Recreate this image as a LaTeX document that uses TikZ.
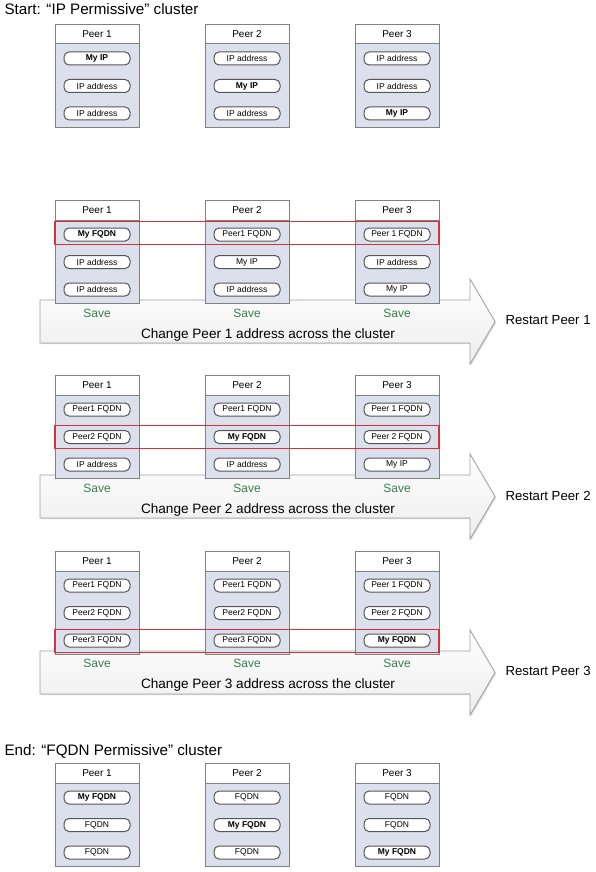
\documentclass[tikz,border=0pt]{standalone}
\usepackage{fontspec}
\setmainfont{Liberation Sans}
\usetikzlibrary{shadows}
\definecolor{boxfill}{RGB}{220,224,236}
\definecolor{boxline}{RGB}{128,128,128}
\definecolor{pillline}{RGB}{85,85,85}
\definecolor{redline}{RGB}{212,50,60}
\definecolor{savegreen}{RGB}{56,128,72}
\definecolor{arrowline}{RGB}{160,160,160}
\newcommand{\peercol}[7]{%
  \node[peerbody] (#1) at (#2,#3) {};
  \node[peerhead] (#1h) at (#2,#3) {#4};
  \node[pill] (#1a) at (#2,#3+34.5) {#5};
  \node[pill] (#1b) at (#2,#3+62) {#6};
  \node[pill] (#1c) at (#2,#3+89.5) {#7};
}
\newcommand{\bigarrow}[2]{%
  \draw[bigarrowstyle] (40,#2+100) coordinate (#1s) -- (470,#2+100) -- (470,#2+79)
    -- (495,#2+121.5) coordinate (#1t) -- (470,#2+164) -- (470,#2+143) -- (40,#2+143) -- cycle;
}
\begin{document}
\begin{tikzpicture}[x=1pt,y=-1pt,
  peerbody/.style={draw=boxline, fill=boxfill, line width=1pt, anchor=north,
    minimum width=84pt, minimum height=103pt, inner sep=0pt},
  peerhead/.style={draw=boxline, fill=white, line width=1pt, anchor=north,
    minimum width=84pt, minimum height=19.5pt, inner sep=0pt,
    font=\fontsize{10}{11}\selectfont},
  pill/.style={draw=pillline, fill=white, line width=1pt, rounded corners=5pt,
    minimum width=66pt, minimum height=13pt, inner sep=0pt,
    font=\fontsize{8.5}{9}\selectfont},
  redbox/.style={draw=redline, line width=1.4pt},
  savetext/.style={text=savegreen, font=\fontsize{12}{13}\selectfont},
  changetext/.style={font=\fontsize{13.6}{15}\selectfont},
  restarttext/.style={anchor=west, font=\fontsize{13.2}{15}\selectfont},
  titletext/.style={anchor=west, font=\fontsize{15.2}{17}\selectfont},
  bigarrowstyle/.style={draw=arrowline, line width=0.8pt, top color=white,
    bottom color=black!7, drop shadow={opacity=0.3, shadow xshift=1.2pt, shadow yshift=-1.2pt}}
]
\useasboundingbox (0,0) rectangle (596,872);

% ---------- Section 1 ----------
\node[titletext] (title1) at (1,9) {Start: “IP Permissive” cluster};
\peercol{a1}{97}{24}{Peer 1}{\textbf{My IP}}{IP address}{IP address}
\peercol{a2}{247}{24}{Peer 2}{IP address}{\textbf{My IP}}{IP address}
\peercol{a3}{397}{24}{Peer 3}{IP address}{IP address}{\textbf{My IP}}

% ---------- Section 2 ----------
\bigarrow{arrB}{200}
\peercol{b1}{97}{200}{Peer 1}{\textbf{My FQDN}}{IP address}{IP address}
\peercol{b2}{247}{200}{Peer 2}{Peer1 FQDN}{My IP}{IP address}
\peercol{b3}{397}{200}{Peer 3}{Peer 1 FQDN}{IP address}{My IP}
\draw[redbox] (55,221.5) rectangle (439,244.5);
\node[savetext] (saveb1) at (97,313) {Save};
\node[savetext] (saveb2) at (247,313) {Save};
\node[savetext] (saveb3) at (397,313) {Save};
\node[changetext] (changeb) at (268,335) {Change Peer 1 address across the cluster};
\node[restarttext] (restartb) at (502,320.5) {Restart Peer 1};

% ---------- Section 3 ----------
\bigarrow{arrC}{375}
\peercol{c1}{97}{375}{Peer 1}{Peer1 FQDN}{Peer2 FQDN}{IP address}
\peercol{c2}{247}{375}{Peer 2}{Peer1 FQDN}{\textbf{My FQDN}}{IP address}
\peercol{c3}{397}{375}{Peer 3}{Peer 1 FQDN}{Peer 2 FQDN}{My IP}
\draw[redbox] (55,425.5) rectangle (439,448.5);
\node[savetext] (savec1) at (97,488) {Save};
\node[savetext] (savec2) at (247,488) {Save};
\node[savetext] (savec3) at (397,488) {Save};
\node[changetext] (changec) at (268,510) {Change Peer 2 address across the cluster};
\node[restarttext] (restartc) at (502,495.5) {Restart Peer 2};

% ---------- Section 4 ----------
\bigarrow{arrD}{551}
\peercol{d1}{97}{551}{Peer 1}{Peer1 FQDN}{Peer2 FQDN}{Peer3 FQDN}
\peercol{d2}{247}{551}{Peer 2}{Peer1 FQDN}{Peer2 FQDN}{Peer3 FQDN}
\peercol{d3}{397}{551}{Peer 3}{Peer 1 FQDN}{Peer 2 FQDN}{\textbf{My FQDN}}
\draw[redbox] (55,629.5) rectangle (439,652.5);
\node[savetext] (saved1) at (97,663) {Save};
\node[savetext] (saved2) at (247,663) {Save};
\node[savetext] (saved3) at (397,663) {Save};
\node[changetext] (changed) at (268,685) {Change Peer 3 address across the cluster};
\node[restarttext] (restartd) at (502,671) {Restart Peer 3};

% ---------- Section 5 ----------
\node[titletext] (title5) at (1,751) {End: “FQDN Permissive” cluster};
\peercol{e1}{97}{763}{Peer 1}{\textbf{My FQDN}}{FQDN}{FQDN}
\peercol{e2}{247}{763}{Peer 2}{FQDN}{\textbf{My FQDN}}{FQDN}
\peercol{e3}{397}{763}{Peer 3}{FQDN}{FQDN}{\textbf{My FQDN}}
\end{tikzpicture}
\end{document}
